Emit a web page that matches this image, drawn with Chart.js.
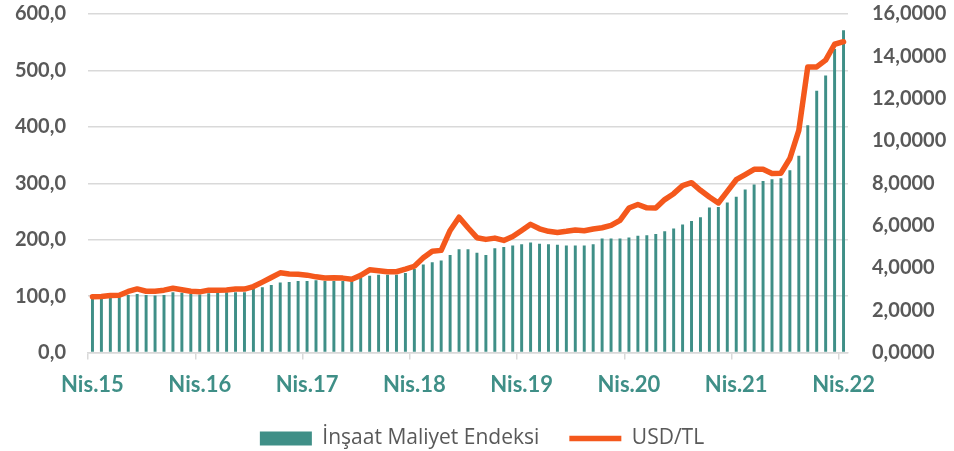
<!DOCTYPE html>
<html>
<head>
<meta charset="utf-8">
<script src="https://cdn.jsdelivr.net/npm/chart.js@4/dist/chart.umd.min.js"></script>
<style>
  html, body { margin: 0; padding: 0; background: #fff; }
  #wrap { width: 954px; height: 451px; }
</style>
</head>
<body>
<div id="wrap"><canvas id="chart" width="954" height="451"></canvas></div>
<script>
//turkish month abbreviations, series runs Nis.15 .. Nis.22
var monthNames = ["Oca", "Şub", "Mar", "Nis", "May", "Haz", "Tem", "Ağu", "Eyl", "Eki", "Kas", "Ara"];
var startYear = 2015;
var startMonth = 3; //april
var monthCount = 85;

//İnşaat Maliyet Endeksi (left axis)
var costIndex = [
    96, 96, 97, 98, 102, 104, 102, 101, 102, 107, 106, 104,
    103, 105, 106, 107, 107, 107, 115, 116, 120, 124, 125, 127,
    127, 128, 127, 127, 127, 127, 132, 136, 138, 138, 138, 141,
    148, 156, 160, 163, 173, 183, 183, 177, 173, 185, 187, 190,
    192, 195, 193, 192, 191, 190, 190, 190, 192, 202, 202, 202,
    204, 207, 208, 210, 215, 220, 227, 233, 240, 257, 258, 266,
    276, 289, 298, 304, 307, 309, 323, 349, 403, 464, 491, 538, 571
];

//USD/TL (right axis)
var usdTl = [
    2.64, 2.65, 2.70, 2.71, 2.89, 3.01, 2.90, 2.90, 2.95, 3.04, 2.97, 2.90,
    2.87, 2.95, 2.95, 2.96, 3.00, 3.00, 3.12, 3.33, 3.55, 3.77, 3.71, 3.70,
    3.66, 3.58, 3.53, 3.54, 3.52, 3.47, 3.65, 3.91, 3.87, 3.82, 3.82, 3.94,
    4.08, 4.48, 4.79, 4.83, 5.77, 6.40, 5.90, 5.43, 5.35, 5.41, 5.30, 5.49,
    5.77, 6.06, 5.85, 5.73, 5.68, 5.73, 5.79, 5.76, 5.84, 5.90, 6.01, 6.25,
    6.83, 7.00, 6.84, 6.83, 7.23, 7.51, 7.89, 8.03, 7.67, 7.35, 7.07, 7.62,
    8.17, 8.41, 8.66, 8.66, 8.46, 8.48, 9.17, 10.50, 13.50, 13.50, 13.82, 14.57, 14.69
];

var leftTicks = [0, 100, 200, 300, 400, 500, 600];
var rightTicks = [0, 2, 4, 6, 8, 10, 12, 14, 16];

//build month labels like "Nis.15"
var labels = [];
for (var i = 0; i < monthCount; i++) {
    var m = (startMonth + i) % 12;
    var y = startYear + Math.floor((startMonth + i) / 12);
    labels.push(monthNames[m] + "." + String(y).slice(2));
}

var TEAL = '#3f8f87';
var ORANGE = '#f4581c';
var GRID = '#d9d9d9';
var TEXT = '#595959';
var FONT = 'Lato';
var NONE = 'rgba(0,0,0,0)';

var ctx = document.getElementById('chart');
new Chart(ctx, {
    type: 'bar',
    data: {
        labels: labels,
        datasets: [
            {
                type: 'bar',
                label: 'İnşaat Maliyet Endeksi',
                data: costIndex,
                backgroundColor: TEAL,
                borderWidth: 0,
                yAxisID: 'y',
                order: 1,
                barPercentage: 0.33,
                categoryPercentage: 1,
                pointStyle: 'rect'
            },
            {
                type: 'line',
                label: 'USD/TL',
                data: usdTl,
                borderColor: ORANGE,
                backgroundColor: ORANGE,
                borderWidth: 5.5,
                borderCapStyle: 'round',
                borderJoinStyle: 'round',
                pointRadius: 0,
                tension: 0,
                yAxisID: 'y1',
                order: 0,
                pointStyle: 'line'
            }
        ]
    },
    options: {
        responsive: false,
        animation: false,
        layout: { padding: { top: 14, bottom: -8, left: 10, right: 0 } },
        plugins: {
            tooltip: { enabled: false },
            legend: {
                position: 'bottom',
                labels: {
                    usePointStyle: true,
                    pointStyleWidth: 52,
                    boxHeight: 14,
                    padding: 30,
                    color: TEXT,
                    font: { family: 'Open Sans', size: 21 },
                    sort: function (a, b) { return a.datasetIndex - b.datasetIndex; }
                }
            }
        },
        scales: {
            x: {
                offset: true,
                afterFit: function (s) { s.height = s.height - 12; },
                grid: {
                    offset: true,
                    drawOnChartArea: false,
                    tickLength: 7,
                    lineWidth: 1.5,
                    color: function (c) { return c.index % 12 === 0 ? GRID : NONE; }
                },
                border: { color: GRID, width: 1.5 },
                ticks: {
                    autoSkip: false,
                    maxRotation: 0,
                    padding: 12,
                    color: TEAL,
                    font: { family: FONT, size: 22, weight: 'bold' },
                    callback: function (v, i) { return i % 12 === 0 ? labels[i] : ''; }
                }
            },
            y: {
                position: 'left',
                min: leftTicks[0],
                max: leftTicks[leftTicks.length - 1],
                afterBuildTicks: function (s) { s.ticks = leftTicks.map(function (v) { return { value: v }; }); },
                afterFit: function (s) { s.width = 78; },
                //invisible tick marks push the labels away from the plot
                grid: { color: GRID, lineWidth: 1.5, tickLength: 22, tickColor: NONE },
                border: { display: false },
                ticks: {
                    padding: 0,
                    color: TEXT,
                    font: { family: FONT, size: 20, weight: 'bold' },
                    callback: function (v) { return v.toFixed(1).replace('.', ','); }
                }
            },
            y1: {
                position: 'right',
                min: rightTicks[0],
                max: rightTicks[rightTicks.length - 1],
                afterBuildTicks: function (s) { s.ticks = rightTicks.map(function (v) { return { value: v }; }); },
                afterFit: function (s) { s.width = 106; },
                grid: { drawOnChartArea: false, tickLength: 24, tickColor: NONE },
                border: { display: false },
                ticks: {
                    padding: 0,
                    color: TEXT,
                    font: { family: FONT, size: 20, weight: 'bold' },
                    callback: function (v) { return v.toFixed(4).replace('.', ','); }
                }
            }
        }
    }
});
</script>
</body>
</html>
